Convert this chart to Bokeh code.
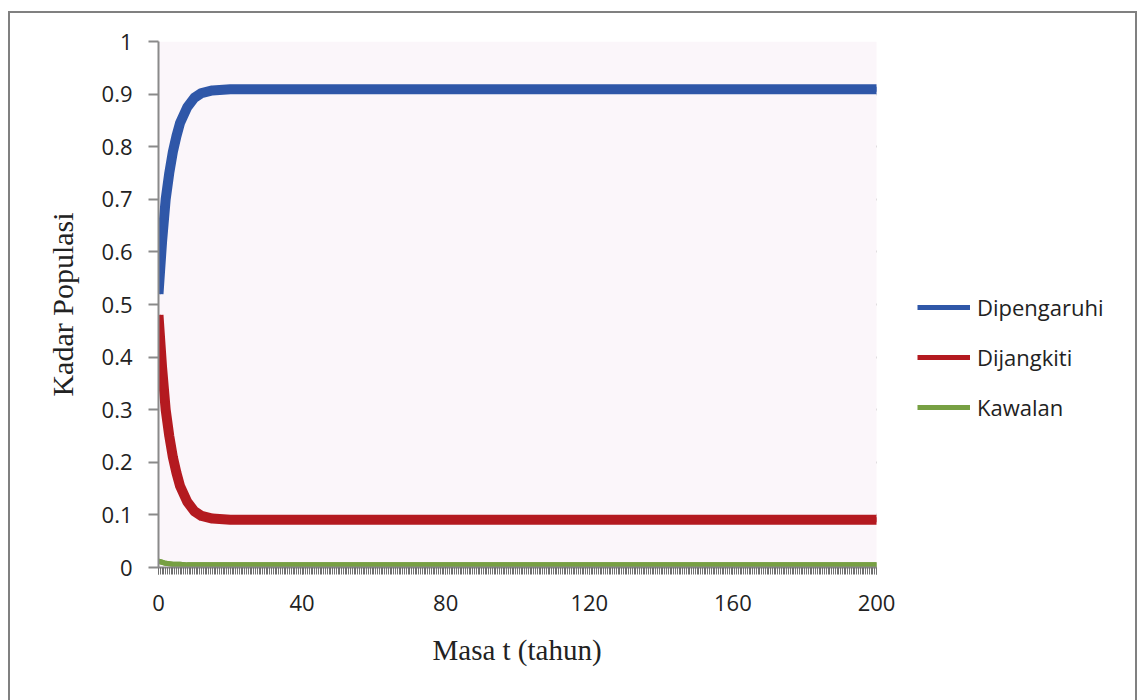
import numpy as np
from bokeh.plotting import figure
from bokeh.models import (ColumnDataSource, FixedTicker, NumeralTickFormatter,
                          Legend, LegendItem, Range1d, InlineStyleSheet, BoxAnnotation,
                          Title)
from bokeh.embed import file_html
from bokeh.resources import INLINE

# ---- data ----
t = [0, 1, 2, 3, 4, 5, 6, 8, 10, 12, 15, 20, 30, 50, 100, 150, 200]
dipengaruhi = [0.52, 0.62, 0.70, 0.75, 0.79, 0.82, 0.845, 0.875, 0.893, 0.902,
               0.907, 0.909, 0.909, 0.909, 0.909, 0.909, 0.909]
dijangkiti = [0.48, 0.38, 0.30, 0.25, 0.21, 0.18, 0.155, 0.125, 0.107, 0.098,
              0.093, 0.091, 0.091, 0.091, 0.091, 0.091, 0.091]
kawalan = [0.012, 0.010, 0.008, 0.007, 0.006, 0.006, 0.006, 0.005, 0.005, 0.005,
           0.005, 0.005, 0.005, 0.005, 0.005, 0.005, 0.005]
series_names = ["Dipengaruhi", "Dijangkiti", "Kawalan"]
x_ticks = [0, 40, 80, 120, 160, 200]
y_ticks = [0, 0.1, 0.2, 0.3, 0.4, 0.5, 0.6, 0.7, 0.8, 0.9, 1.0]
x_minor_step = 0.5
x_min, x_max = 0, 200
y_min, y_max = 0, 1
x_title = "Masa t (tahun)"
y_title = "Kadar Populasi"

colors = ["#2f57a8", "#b41a20", "#77a043"]
widths = [10, 10, 5]

# layout (pixels)
W, H = 1138, 700
frame_left, plot_right, frame_top, frame_bottom = 158, 876, 41, 567
frame_right = 1136
# the frame extends to the right so the legend can sit inside it
x_end = x_min + (x_max - x_min) * (frame_right - frame_left) / (plot_right - frame_left)

src = ColumnDataSource(dict(t=t, a=dipengaruhi, b=dijangkiti, c=kawalan))

p = figure(width=W, height=H, output_backend="svg", toolbar_location=None,
           x_range=Range1d(x_min, x_end), y_range=Range1d(y_min, y_max),
           min_border_left=frame_left, min_border_right=W - frame_right,
           min_border_top=frame_top, min_border_bottom=H - frame_bottom)
p.background_fill_color = "white"
p.border_fill_color = "white"
p.outline_line_color = None

# plot-area tint
p.add_layout(BoxAnnotation(left=x_min, right=x_max, bottom=y_min, top=y_max,
                           fill_color="#fbf6fa", fill_alpha=1, line_color=None,
                           level="underlay"))

# outer chart border drawn with CSS (does not affect layout)
p.stylesheets = [InlineStyleSheet(css="""
:host { position: relative; }
:host::after {
  content: ""; position: absolute; left: 8px; top: 11px;
  width: 1125px; height: 690px;
  border: 2px solid #808080; pointer-events: none; box-sizing: content-box;
}
""")]

# grid
p.xgrid.grid_line_color = None
p.ygrid.grid_line_color = "#8a8a8a"
p.ygrid.grid_line_width = 2
p.ygrid.ticker = FixedTicker(ticks=y_ticks)
p.ygrid.cross_bounds = (x_min, x_max)

# y axis
ya = p.yaxis[0]
ya.ticker = FixedTicker(ticks=y_ticks)
ya.formatter = NumeralTickFormatter(format="0.[0]")
ya.axis_line_color = "#8a8a8a"
ya.axis_line_width = 2
ya.major_tick_line_color = "#8a8a8a"
ya.major_tick_line_width = 2
ya.major_tick_out = 10
ya.major_tick_in = 0
ya.minor_tick_line_color = None
ya.major_label_text_font = "Open Sans"
ya.major_label_text_font_size = "22px"
ya.major_label_text_color = "#222222"
ya.major_label_standoff = 16
ya.axis_label = y_title
ya.axis_label_text_font = "Liberation Serif"
ya.axis_label_text_font_style = "normal"
ya.axis_label_text_font_size = "30px"
ya.axis_label_text_color = "#222222"
ya.axis_label_standoff = 20

# x axis
xa = p.xaxis[0]
xa.bounds = (x_min, x_max)
xa.ticker = FixedTicker(ticks=x_ticks,
                        minor_ticks=list(np.arange(x_min, x_max + x_minor_step / 2, x_minor_step)))
xa.axis_line_color = "#8a8a8a"
xa.axis_line_width = 2
xa.major_tick_line_color = "#6f6f6f"
xa.major_tick_out = 7
xa.major_tick_in = 0
xa.minor_tick_line_color = "#6f6f6f"
xa.minor_tick_line_width = 1
xa.minor_tick_out = 7
xa.minor_tick_in = 0
xa.major_label_text_font = "Open Sans"
xa.major_label_text_font_size = "22px"
xa.major_label_text_color = "#222222"
xa.major_label_standoff = 20

# x-axis title, centred under the plot area (not the extended frame)
p.add_layout(Title(text=x_title, align="left", offset=432 - frame_left,
                   text_font="Liberation Serif", text_font_style="normal",
                   text_font_size="29px", text_color="#222222", standoff=37),
             "below")

# series
for col, c, w in zip(["a", "b", "c"], colors, widths):
    p.line("t", col, source=src, line_color=c, line_width=w,
           line_join="round", line_cap="butt")

# legend: thinner copies of the same lines (drawn on top, same colour)
items = []
for name, col, c in zip(series_names, ["a", "b", "c"], colors):
    r = p.line("t", col, source=src, line_color=c, line_width=5,
               line_join="round", line_cap="butt")
    items.append(LegendItem(label=name, renderers=[r]))
legend = Legend(items=items, location=(917 - frame_left, 145), orientation="vertical",
                glyph_width=53, glyph_height=20, label_height=20, spacing=20,
                label_standoff=7, padding=0, margin=0,
                border_line_color=None, background_fill_alpha=0,
                label_text_font="Open Sans", label_text_font_size="22px",
                label_text_color="#222222")
p.add_layout(legend, "center")

open("out.html", "w").write(file_html(p, INLINE))
